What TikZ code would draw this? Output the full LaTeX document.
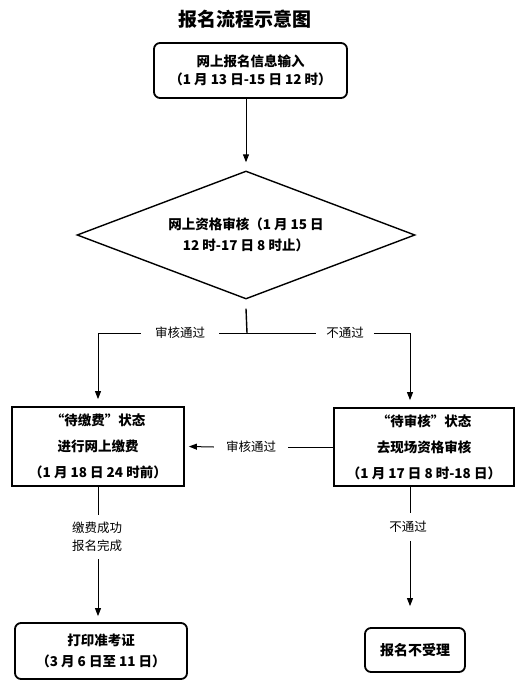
\documentclass[tikz,border=0pt]{standalone}
\usepackage{fontspec}
\newfontfamily\cjk{Noto Sans CJK SC}
\usetikzlibrary{shapes.geometric,arrows.meta,calc}
\begin{document}
\begin{tikzpicture}[x=1pt,y=-1pt,
  box/.style={draw, line width=1.8pt, align=center, inner sep=0pt},
  rbox/.style={box, rounded corners=6pt},
  bt/.style={font=\cjk\bfseries\fontsize{13.5}{18}\selectfont},
  lab/.style={font=\cjk\fontsize{12.5}{18}\selectfont, align=center, inner sep=0pt},
  arr/.style={line width=1pt, -{Triangle[width=6pt,length=8pt]}},
  ln/.style={line width=1pt}]
\useasboundingbox (0,0) rectangle (521,687);
\node[font=\cjk\bfseries\fontsize{19}{22}\selectfont, inner sep=0pt] (title) at (245,19) {报名流程示意图};
\node[rbox, bt, minimum width=193pt, minimum height=55pt] (b1) at (250.5,70.5) {网上报名信息输入\\（1 月 13 日-15 日 12 时）};
\node[draw, diamond, line width=1.4pt, shape aspect=2.64, minimum width=338pt, minimum height=128pt, inner sep=0pt, align=center, font=\cjk\bfseries\fontsize{13.5}{21}\selectfont] (dia) at (246,235) {网上资格审核（1 月 15 日\\12 时-17 日 8 时止）};
\draw[arr] (b1.south -| dia.north) -- ([yshift=8pt]dia.north);
% branch
\coordinate (j) at (247,333);
\coordinate (jl) at (98,333);
\coordinate (jr) at (410,333);
\draw[line width=1.4pt] ($(dia.south)+(0,9)$) -- (j);
\node[lab, inner xsep=14pt] (l1) at (180,333) {审核通过};
\node[lab, inner xsep=10pt] (l2) at (345,333) {不通过};
\draw[ln] (jl) -- (l1.west) (l1.east) -- (l2.west) (l2.east) -- (jr);
% boxes
\node[box, bt, font=\cjk\bfseries\fontsize{13.5}{26}\selectfont, minimum width=172pt, minimum height=79pt] (b2) at (98,446.5) {“待缴费”状态\\进行网上缴费\\（1 月 18 日 24 时前）};
\node[box, bt, font=\cjk\bfseries\fontsize{13.5}{26}\selectfont, minimum width=180pt, minimum height=78pt] (b3) at (424,447) {“待审核”状态\\去现场资格审核\\（1 月 17 日 8 时-18 日）};
\draw[arr] (jl) -- ($(jl |- b2.north)+(0,-7)$);
\draw[arr] (jr) -- ($(jr |- b3.north)+(0,-7)$);
% middle
\node[lab, inner xsep=12pt] (l3) at (251,447) {审核通过};
\draw[ln] (b3.west |- l3) -- (l3.east);
\draw[arr] (l3.west) -- ($(b2.east)+(4,0)$);
% bottom left
\node[lab, inner ysep=7pt] (l4) at (97,537) {缴费成功\\报名完成};
\node[rbox, bt, font=\cjk\bfseries\fontsize{13.5}{21}\selectfont, minimum width=172pt, minimum height=56pt] (b4) at (101,651) {打印准考证\\（3 月 6 日至 11 日）};
\draw[ln] (b2.south) -- (b2.south |- l4.north);
\draw[arr] (b2.south |- l4.south) -- ($(b2.south |- b4.north)+(0,-6)$);
% bottom right
\node[lab, inner ysep=8pt] (l5) at (408,527) {不通过};
\node[rbox, bt, font=\cjk\bfseries\fontsize{14}{18}\selectfont, minimum width=100pt, minimum height=44pt] (b5) at (415,650) {报名不受理};
\draw[ln] (jr |- b3.south) -- (jr |- l5.north);
\draw[arr] (jr |- l5.south) -- ($(jr |- b5.north)+(0,-21)$);
\end{tikzpicture}
\end{document}
